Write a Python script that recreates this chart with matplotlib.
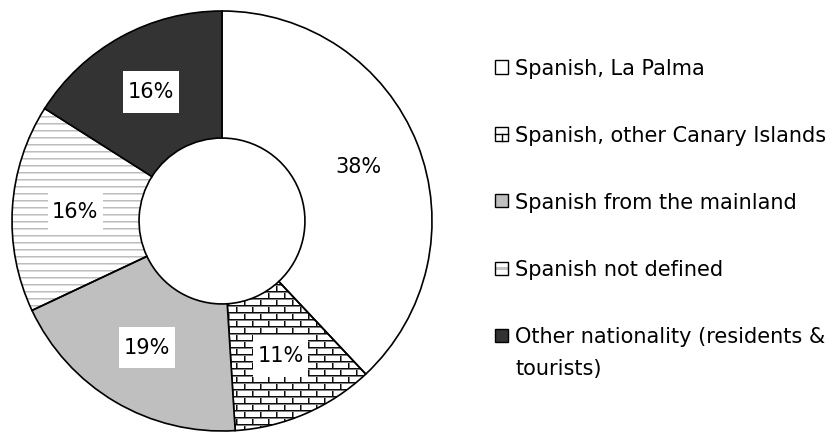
import numpy as np
import matplotlib
matplotlib.use('Agg')
import matplotlib.pyplot as plt
from matplotlib.patches import Rectangle
from matplotlib.lines import Line2D
from matplotlib.path import Path

# ---- data ----
categories = ["Spanish, La Palma",
              "Spanish, other Canary Islands",
              "Spanish from the mainland",
              "Spanish not defined",
              "Other nationality (residents &\ntourists)"]
shares = [38, 11, 19, 16, 16]
pct_labels = ["38%", "11%", "19%", "16%", "16%"]

# ---- style ----
plt.rcParams['font.family'] = ['DejaVu Sans']
FS = 15
W, H = 834, 434
R_PX = 210
CX, CY = 222, 221          # donut centre in pixels (from top-left)
face = ['white', 'none', '#bfbfbf', 'none', '#333333']


def label_box(x0, y0, width, height, mutation_size):
    px = 0.22 * mutation_size
    py = 0.52 * mutation_size
    x0, y0 = x0 - px, y0 - py
    x1, y1 = x0 + width + 2 * px, y0 + height + 2 * py
    return Path([(x0, y0), (x1, y0), (x1, y1), (x0, y1), (x0, y0)], closed=True)


fig = plt.figure(figsize=(W / 100, H / 100), dpi=100)
ax = fig.add_axes([(CX - R_PX) / W, (H - CY - R_PX) / H, 2 * R_PX / W, 2 * R_PX / H])

wedges, texts, autotexts = ax.pie(
    shares, startangle=90, counterclock=False, radius=1, colors=face,
    autopct=lambda p: f'{p:.0f}%', pctdistance=0.70,
    wedgeprops=dict(width=0.605, edgecolor='black', linewidth=1.2),
    textprops=dict(fontsize=FS, color='black'))
for w in wedges:
    w.set_clip_on(False)
for t, s in zip(autotexts, pct_labels):
    t.set_text(s)
    t.set_zorder(5)
    t.set_bbox(dict(facecolor='white', edgecolor='none', boxstyle=label_box))

# ---- textures (brick and horizontal lines) ----
n = 2 * R_PX
jj, ii = np.mgrid[0:n, 0:n]
brick = np.ones((n, n))
ry = jj % 7
brick[ry == 0] = 0.05
brick[ry == 1] = 0.5
band = jj // 7
vx = (ii + (band % 2) * 8) % 16
brick[(vx == 0) & (ry > 1)] = 0.05
brick[(vx == 1) & (ry > 1)] = 0.5

hl = np.ones((n, n))
hl[jj % 7 == 0] = 0.74
hl[jj % 7 == 1] = 0.86

for tex, idx in ((brick, 1), (hl, 3)):
    im = ax.imshow(tex, cmap='gray', vmin=0, vmax=1, extent=(-1, 1, -1, 1),
                   interpolation='nearest', zorder=0.5)
    im.set_clip_path(wedges[idx])

ax.set_xlim(-1, 1)
ax.set_ylim(-1, 1)
ax.set_aspect('equal')
ax.axis('off')

# ---- legend (manual, right side) ----
leg_face = ['white', 'white', '#bfbfbf', 'white', '#333333']
y0, step, line_gap = 67, 67, 32
sq = 13
x_sq = 495


def fx(px):
    return px / W


def fy(py):
    return 1 - py / H


for i, lab in enumerate(categories):
    y = y0 + i * step
    rect_xy = (fx(x_sq), fy(y + sq / 2))
    fig.add_artist(Rectangle(rect_xy, sq / W, sq / H, transform=fig.transFigure,
                             facecolor=leg_face[i], edgecolor='none', linewidth=0))
    if i == 1:   # brick swatch
        fig.add_artist(Line2D([fx(x_sq), fx(x_sq + sq)], [fy(y), fy(y)],
                              transform=fig.transFigure, color='black', lw=1.0))
        fig.add_artist(Line2D([fx(x_sq + sq / 2)] * 2, [fy(y), fy(y + sq / 2)],
                              transform=fig.transFigure, color='black', lw=1.0))
    if i == 3:   # horizontal-lines swatch
        fig.add_artist(Rectangle((fx(x_sq), fy(y + 1.5)), sq / W, 3 / H,
                                 transform=fig.transFigure, facecolor='#c4c4c4',
                                 edgecolor='none'))
    fig.add_artist(Rectangle(rect_xy, sq / W, sq / H, transform=fig.transFigure,
                             facecolor='none', edgecolor='black', linewidth=1.0))
    for k, line in enumerate(lab.split('\n')):
        fig.text(515 / W, fy(y + k * line_gap), line, fontsize=FS, ha='left',
                 va='center_baseline', color='black')

fig.savefig('out.png', dpi=100, facecolor='white')
